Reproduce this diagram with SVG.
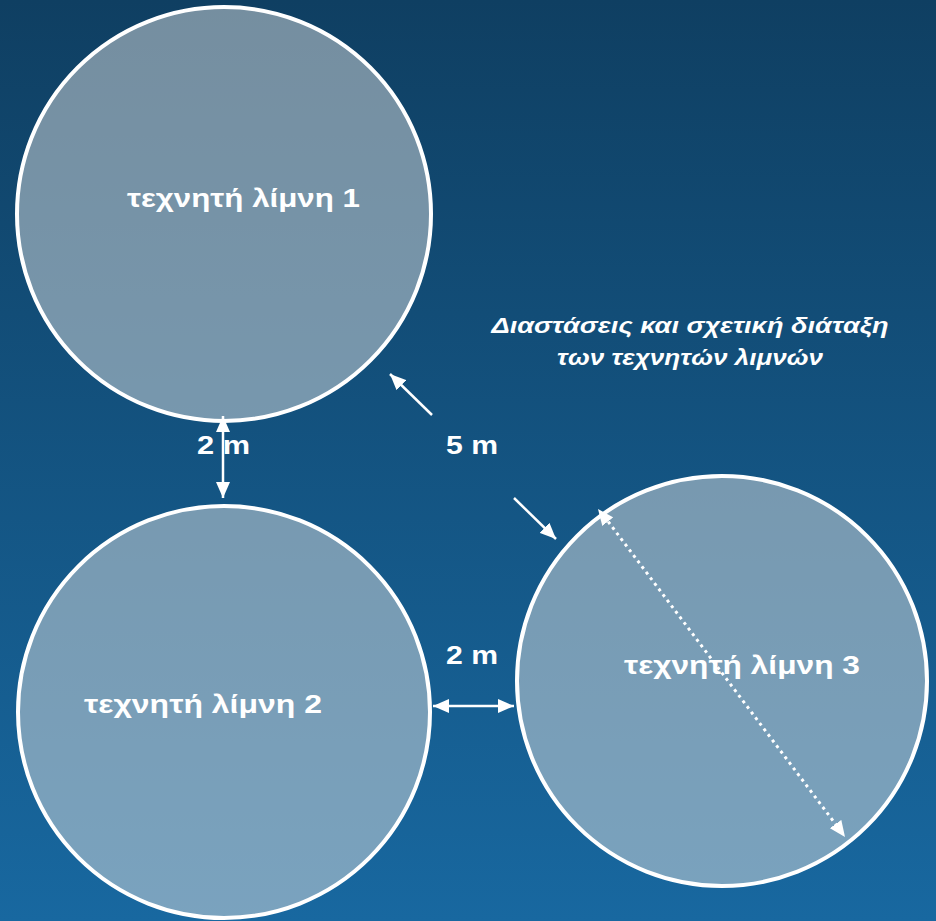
<svg xmlns="http://www.w3.org/2000/svg" width="936" height="921" viewBox="0 0 936 921">
  <defs>
    <linearGradient id="bg" x1="0" y1="0" x2="0" y2="1">
      <stop offset="0" stop-color="#0f3f62"/>
      <stop offset="1" stop-color="#1868a0"/>
    </linearGradient>
    <marker id="head" viewBox="0 0 16 14" refX="16" refY="7" markerWidth="16" markerHeight="14" markerUnits="userSpaceOnUse" orient="auto-start-reverse">
      <path d="M0,0 L16,7 L0,14 Z" fill="#ffffff"/>
    </marker>
    <style>
      .lake { fill: #dcdede; fill-opacity: 0.5; stroke: #ffffff; stroke-width: 4; }
      .name { font-family: "Liberation Sans", Arial, sans-serif; font-weight: bold; font-size: 25px; fill: #ffffff; text-anchor: middle; }
      .dim { font-family: "Liberation Sans", Arial, sans-serif; font-weight: bold; font-size: 26px; fill: #ffffff; text-anchor: middle; }
      .note { font-family: "Liberation Sans", Arial, sans-serif; font-weight: bold; font-style: italic; font-size: 22px; fill: #ffffff; text-anchor: middle; }
      .arrow { stroke: #ffffff; stroke-width: 2.5; fill: none; }
      .dots { stroke: #ffffff; stroke-width: 3; stroke-dasharray: 3 4; fill: none; }
    </style>
  </defs>

  <rect x="0" y="0" width="936" height="921" fill="url(#bg)"/>

  <g id="lake1">
    <circle class="lake" cx="224" cy="214" r="207"/>
    <text class="name" x="243.5" y="207" textLength="233" lengthAdjust="spacingAndGlyphs">τεχνητή λίμνη 1</text>
  </g>

  <g id="lake2">
    <circle class="lake" cx="224" cy="712" r="206"/>
    <text class="name" x="203" y="713" textLength="238" lengthAdjust="spacingAndGlyphs">τεχνητή λίμνη 2</text>
  </g>

  <g id="lake3">
    <circle class="lake" cx="722" cy="681" r="205"/>
    <text class="name" x="742" y="674" textLength="236" lengthAdjust="spacingAndGlyphs">τεχνητή λίμνη 3</text>
  </g>

  <g id="note">
    <text class="note" x="690" y="333" textLength="397" lengthAdjust="spacingAndGlyphs">Διαστάσεις και σχετική διάταξη</text>
    <text class="note" x="690" y="365" textLength="266" lengthAdjust="spacingAndGlyphs">των τεχνητών λιμνών</text>
  </g>

  <g id="connectors">
    <!-- gap between lake 1 and lake 2 -->
    <line class="arrow" x1="223" y1="416" x2="223" y2="498" marker-start="url(#head)" marker-end="url(#head)"/>
    <!-- gap between lake 2 and lake 3 -->
    <line class="arrow" x1="433" y1="706" x2="514" y2="706" marker-start="url(#head)" marker-end="url(#head)"/>
    <!-- gap between lake 1 and lake 3 -->
    <line class="arrow" x1="432" y1="415" x2="390" y2="374" marker-end="url(#head)"/>
    <line class="arrow" x1="514" y1="498" x2="556" y2="539" marker-end="url(#head)"/>
    <!-- diameter of lake 3 -->
    <line class="dots" x1="604" y1="516" x2="840" y2="830"/>
    <line class="arrow" x1="612" y1="527" x2="598" y2="509" marker-end="url(#head)" stroke-opacity="0"/>
    <line class="arrow" x1="832" y1="819" x2="845" y2="837" marker-end="url(#head)" stroke-opacity="0"/>
  </g>

  <g id="labels">
    <text class="dim" x="223.5" y="454" textLength="53" lengthAdjust="spacingAndGlyphs">2 m</text>
    <text class="dim" x="472" y="454" textLength="52" lengthAdjust="spacingAndGlyphs">5 m</text>
    <text class="dim" x="472" y="664" textLength="52" lengthAdjust="spacingAndGlyphs">2 m</text>
  </g>
</svg>
